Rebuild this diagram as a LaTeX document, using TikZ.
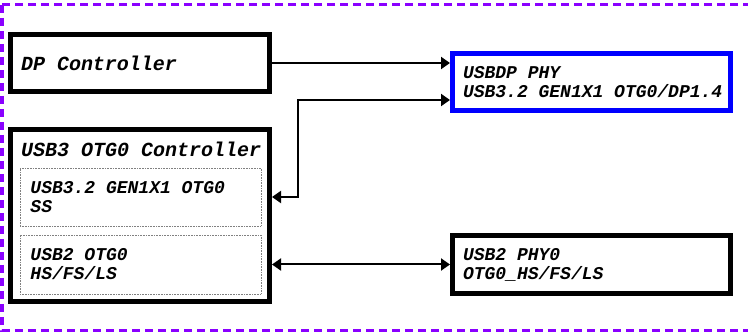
\documentclass[tikz,border=0pt]{standalone}
\usepackage{fontspec}
\setmonofont{Liberation Mono}
\usetikzlibrary{arrows.meta,calc}
\definecolor{borderviolet}{RGB}{138,0,255}
\tikzset{
    blockbox/.style={draw, line width=5pt, rectangle, inner xsep=10.5pt, inner ysep=0pt, align=flush left},
    partbox/.style={draw=gray, densely dotted, line width=0.6pt, rectangle, inner xsep=10.5pt, inner ysep=0pt, align=flush left},
    biarrow/.style={line width=2pt, {Triangle[length=9pt,width=12pt]}-{Triangle[length=9pt,width=12pt]}},
    onearrow/.style={line width=2pt, -{Triangle[length=9pt,width=12pt]}},
    bigtext/.style={font=\ttfamily\bfseries\itshape\fontsize{20}{21}\selectfont},
    smalltext/.style={font=\ttfamily\bfseries\itshape\fontsize{18}{19}\selectfont}
}
\begin{document}
\begin{tikzpicture}[x=1pt, y=-1pt]
    \useasboundingbox (0,0) rectangle (748,334);
    % Outer border
    \draw[borderviolet, line width=3pt, dash pattern=on 8pt off 5pt] (2,5) rectangle (760,330);

    % Controllers
    \node[blockbox, bigtext, text width=238pt, minimum height=57pt] (dp) at (140,63) {DP Controller};
    \node[blockbox, minimum width=259pt, minimum height=172pt] (usb3) at (140,215.5) {};
    \node[bigtext, anchor=base west, inner sep=0pt] (usb3lbl) at (21,157) {USB3 OTG0 Controller};
    \node[partbox, smalltext, text width=220pt, minimum height=58pt] (ss) at (140.5,197) {USB3.2 GEN1X1 OTG0\\SS};
    \node[partbox, smalltext, text width=220pt, minimum height=59pt] (hs) at (140.5,264.5) {USB2 OTG0\\HS/FS/LS};

    % PHYs
    \node[blockbox, smalltext, draw=blue, text width=257pt, minimum height=57pt] (usbdp) at (591.5,82) {USBDP PHY\\\mbox{USB3.2 GEN1X1 OTG0/DP1.4}};
    \node[blockbox, smalltext, text width=257pt, minimum height=58pt] (usb2phy) at (591.5,264.5) {USB2 PHY0\\OTG0\_HS/FS/LS};

    % Connections
    \coordinate (bend) at (298,100);
    \draw[onearrow] (dp.east) -- (dp.east -| usbdp.west);
    \draw[biarrow] (ss.center -| usb3.east) -| (bend) -- (bend -| usbdp.west);
    \draw[biarrow] (hs.center -| usb3.east) -- (usb2phy.west);
\end{tikzpicture}
\end{document}
